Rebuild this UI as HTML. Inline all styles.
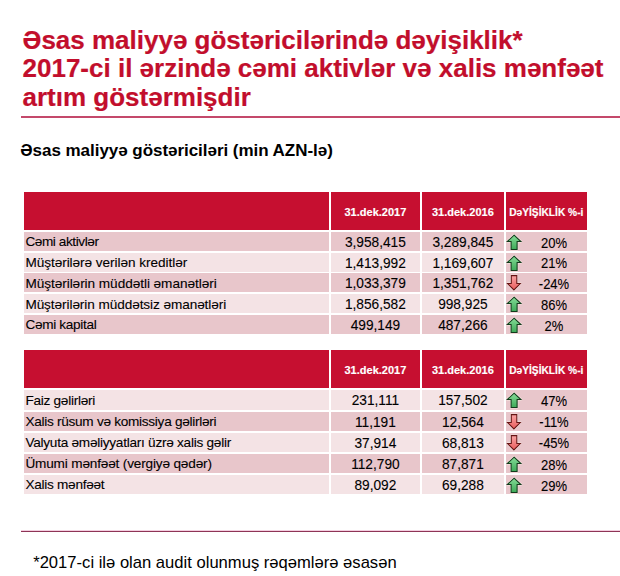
<!DOCTYPE html>
<html><head><meta charset="utf-8"><style>
html,body{margin:0;padding:0;background:#fff;}
body{width:620px;height:576px;position:relative;overflow:hidden;font-family:"Liberation Sans",sans-serif;}
.a{position:absolute;white-space:nowrap;}
.title{color:#c20e2c;font-weight:bold;font-size:26.0px;line-height:28px;left:22.5px;-webkit-text-stroke:0.2px #c20e2c;}
.c{position:absolute;}
.h{background:#c60f30;}
.p{background:#e8c6cb;}
.l{background:#f4e3e5;}
.ht{position:absolute;color:#fff;font-weight:bold;white-space:nowrap;text-align:center;-webkit-text-stroke:0.15px #fff;}
.bt{position:absolute;color:#000;white-space:nowrap;font-size:13px;line-height:13px;-webkit-text-stroke:0.1px #000;}
.lb{font-size:13.6px;line-height:13.6px;}
.nm{font-size:13.7px;line-height:13.7px;transform:scaleY(1.1);transform-origin:0 11.6px;}
.pc{transform:scaleY(1.06);transform-origin:0 11px;}
.ar{position:absolute;}
</style></head><body>

<div class="a title" style="top:26.4px">Əsas maliyyə göstəricilərində dəyişiklik*</div>
<div class="a title" style="top:54.3px">2017-ci il ərzində cəmi aktivlər və xalis mənfəət</div>
<div class="a title" style="top:82.8px">artım göstərmişdir</div>
<div class="a" style="left:21px;top:116px;width:599px;height:2px;background:#c4496b"></div>
<div class="a" style="left:20.3px;top:142.01px;font-size:17px;line-height:17px;letter-spacing:-0.04px;font-weight:bold;color:#000">Əsas maliyyə göstəriciləri (min AZN-lə)</div>
<div class="c h" style="left:23.50px;top:191.60px;width:305.10px;height:38.00px"></div>
<div class="c h" style="left:331.00px;top:191.60px;width:88.80px;height:38.00px"></div>
<div class="c h" style="left:422.00px;top:191.60px;width:81.75px;height:38.00px"></div>
<div class="c h" style="left:505.60px;top:191.60px;width:81.40px;height:38.00px"></div>
<div class="ht" style="left:331.00px;width:88.80px;top:206.69px;font-size:11px;line-height:11px">31.dek.2017</div>
<div class="ht" style="left:422.00px;width:81.75px;top:206.69px;font-size:11px;line-height:11px">31.dek.2016</div>
<div class="ht" style="left:505.60px;width:81.40px;top:207.87px;font-size:10.20px;line-height:10.20px">DəYİŞİKLİK %-i</div>
<div class="c p" style="left:23.50px;top:231.95px;width:305.10px;height:19.00px"></div>
<div class="c p" style="left:331.00px;top:231.95px;width:88.80px;height:19.00px"></div>
<div class="c p" style="left:422.00px;top:231.95px;width:81.75px;height:19.00px"></div>
<div class="c p" style="left:505.60px;top:231.95px;width:81.40px;height:19.00px"></div>
<div class="bt lb" style="left:25.4px;top:235.44px;letter-spacing:-0.417px">Cəmi aktivlər</div>
<div class="bt nm" style="left:331.00px;width:88.80px;text-align:center;top:235.95px">3,958,415</div>
<div class="bt nm" style="left:422.00px;width:81.75px;text-align:center;top:235.95px">3,289,845</div>
<svg class="ar" style="left:505px;top:231.95px" width="18" height="20" viewBox="0 0 18 20"><defs><linearGradient id="g1" x1="0" y1="0" x2="0" y2="1"><stop offset="0" stop-color="#86dc98"/><stop offset="1" stop-color="#3daa58"/></linearGradient></defs><path d="M9.1 3.2 L15.9 9.5 L12.1 9.5 L12.1 17.4 L6.1 17.4 L6.1 9.5 L2.3 9.5 Z" fill="none" stroke="#fbf4e8" stroke-opacity="0.6" stroke-width="2.4" stroke-linejoin="round"/><path d="M9.1 3.2 L15.9 9.5 L12.1 9.5 L12.1 17.4 L6.1 17.4 L6.1 9.5 L2.3 9.5 Z" fill="url(#g1)" stroke="#123a1c" stroke-width="1.05" stroke-linejoin="miter"/></svg>
<div class="bt pc" style="left:524px;width:60px;text-align:center;top:236.65px">20%</div>
<div class="c l" style="left:23.50px;top:252.70px;width:305.10px;height:19.00px"></div>
<div class="c l" style="left:331.00px;top:252.70px;width:88.80px;height:19.00px"></div>
<div class="c l" style="left:422.00px;top:252.70px;width:81.75px;height:19.00px"></div>
<div class="c p" style="left:505.60px;top:252.70px;width:81.40px;height:19.00px"></div>
<div class="bt lb" style="left:25.4px;top:256.19px;letter-spacing:-0.050px">Müştərilərə verilən kreditlər</div>
<div class="bt nm" style="left:331.00px;width:88.80px;text-align:center;top:256.70px">1,413,992</div>
<div class="bt nm" style="left:422.00px;width:81.75px;text-align:center;top:256.70px">1,169,607</div>
<svg class="ar" style="left:505px;top:252.70px" width="18" height="20" viewBox="0 0 18 20"><defs><linearGradient id="g2" x1="0" y1="0" x2="0" y2="1"><stop offset="0" stop-color="#86dc98"/><stop offset="1" stop-color="#3daa58"/></linearGradient></defs><path d="M9.1 3.2 L15.9 9.5 L12.1 9.5 L12.1 17.4 L6.1 17.4 L6.1 9.5 L2.3 9.5 Z" fill="none" stroke="#fbf4e8" stroke-opacity="0.6" stroke-width="2.4" stroke-linejoin="round"/><path d="M9.1 3.2 L15.9 9.5 L12.1 9.5 L12.1 17.4 L6.1 17.4 L6.1 9.5 L2.3 9.5 Z" fill="url(#g2)" stroke="#123a1c" stroke-width="1.05" stroke-linejoin="miter"/></svg>
<div class="bt pc" style="left:524px;width:60px;text-align:center;top:257.40px">21%</div>
<div class="c p" style="left:23.50px;top:273.45px;width:305.10px;height:19.00px"></div>
<div class="c p" style="left:331.00px;top:273.45px;width:88.80px;height:19.00px"></div>
<div class="c p" style="left:422.00px;top:273.45px;width:81.75px;height:19.00px"></div>
<div class="c p" style="left:505.60px;top:273.45px;width:81.40px;height:19.00px"></div>
<div class="bt lb" style="left:25.4px;top:276.94px;letter-spacing:-0.045px">Müştərilərin müddətli əmanətləri</div>
<div class="bt nm" style="left:331.00px;width:88.80px;text-align:center;top:277.45px">1,033,379</div>
<div class="bt nm" style="left:422.00px;width:81.75px;text-align:center;top:277.45px">1,351,762</div>
<svg class="ar" style="left:505px;top:273.45px" width="18" height="20" viewBox="0 0 18 20"><defs><linearGradient id="r3" x1="0" y1="0" x2="0" y2="1"><stop offset="0" stop-color="#f8a4a4"/><stop offset="1" stop-color="#ea5c5c"/></linearGradient></defs><path d="M6.3 2.6 L11.8 2.6 L11.8 10.5 L15.3 10.5 L8.9 16.9 L2.5 10.5 L6.3 10.5 Z" fill="none" stroke="#fbf0ea" stroke-opacity="0.6" stroke-width="2.4" stroke-linejoin="round"/><path d="M6.3 2.6 L11.8 2.6 L11.8 10.5 L15.3 10.5 L8.9 16.9 L2.5 10.5 L6.3 10.5 Z" fill="url(#r3)" stroke="#641414" stroke-width="1.05" stroke-linejoin="miter"/></svg>
<div class="bt pc" style="left:524px;width:60px;text-align:center;top:278.15px">-24%</div>
<div class="c l" style="left:23.50px;top:294.20px;width:305.10px;height:19.00px"></div>
<div class="c l" style="left:331.00px;top:294.20px;width:88.80px;height:19.00px"></div>
<div class="c l" style="left:422.00px;top:294.20px;width:81.75px;height:19.00px"></div>
<div class="c p" style="left:505.60px;top:294.20px;width:81.40px;height:19.00px"></div>
<div class="bt lb" style="left:25.4px;top:297.69px;letter-spacing:-0.075px">Müştərilərin müddətsiz əmanətləri</div>
<div class="bt nm" style="left:331.00px;width:88.80px;text-align:center;top:298.20px">1,856,582</div>
<div class="bt nm" style="left:422.00px;width:81.75px;text-align:center;top:298.20px">998,925</div>
<svg class="ar" style="left:505px;top:294.20px" width="18" height="20" viewBox="0 0 18 20"><defs><linearGradient id="g4" x1="0" y1="0" x2="0" y2="1"><stop offset="0" stop-color="#86dc98"/><stop offset="1" stop-color="#3daa58"/></linearGradient></defs><path d="M9.1 3.2 L15.9 9.5 L12.1 9.5 L12.1 17.4 L6.1 17.4 L6.1 9.5 L2.3 9.5 Z" fill="none" stroke="#fbf4e8" stroke-opacity="0.6" stroke-width="2.4" stroke-linejoin="round"/><path d="M9.1 3.2 L15.9 9.5 L12.1 9.5 L12.1 17.4 L6.1 17.4 L6.1 9.5 L2.3 9.5 Z" fill="url(#g4)" stroke="#123a1c" stroke-width="1.05" stroke-linejoin="miter"/></svg>
<div class="bt pc" style="left:524px;width:60px;text-align:center;top:298.90px">86%</div>
<div class="c p" style="left:23.50px;top:314.95px;width:305.10px;height:19.00px"></div>
<div class="c p" style="left:331.00px;top:314.95px;width:88.80px;height:19.00px"></div>
<div class="c p" style="left:422.00px;top:314.95px;width:81.75px;height:19.00px"></div>
<div class="c p" style="left:505.60px;top:314.95px;width:81.40px;height:19.00px"></div>
<div class="bt lb" style="left:25.4px;top:318.44px;letter-spacing:-0.309px">Cəmi kapital</div>
<div class="bt nm" style="left:331.00px;width:88.80px;text-align:center;top:318.95px">499,149</div>
<div class="bt nm" style="left:422.00px;width:81.75px;text-align:center;top:318.95px">487,266</div>
<svg class="ar" style="left:505px;top:314.95px" width="18" height="20" viewBox="0 0 18 20"><defs><linearGradient id="g5" x1="0" y1="0" x2="0" y2="1"><stop offset="0" stop-color="#86dc98"/><stop offset="1" stop-color="#3daa58"/></linearGradient></defs><path d="M9.1 3.2 L15.9 9.5 L12.1 9.5 L12.1 17.4 L6.1 17.4 L6.1 9.5 L2.3 9.5 Z" fill="none" stroke="#fbf4e8" stroke-opacity="0.6" stroke-width="2.4" stroke-linejoin="round"/><path d="M9.1 3.2 L15.9 9.5 L12.1 9.5 L12.1 17.4 L6.1 17.4 L6.1 9.5 L2.3 9.5 Z" fill="url(#g5)" stroke="#123a1c" stroke-width="1.05" stroke-linejoin="miter"/></svg>
<div class="bt pc" style="left:524px;width:60px;text-align:center;top:319.65px">2%</div>
<div class="c h" style="left:23.50px;top:350.10px;width:305.10px;height:38.00px"></div>
<div class="c h" style="left:331.00px;top:350.10px;width:88.80px;height:38.00px"></div>
<div class="c h" style="left:422.00px;top:350.10px;width:81.75px;height:38.00px"></div>
<div class="c h" style="left:505.60px;top:350.10px;width:81.40px;height:38.00px"></div>
<div class="ht" style="left:331.00px;width:88.80px;top:365.19px;font-size:11px;line-height:11px">31.dek.2017</div>
<div class="ht" style="left:422.00px;width:81.75px;top:365.19px;font-size:11px;line-height:11px">31.dek.2016</div>
<div class="ht" style="left:505.60px;width:81.40px;top:366.37px;font-size:10.20px;line-height:10.20px">DəYİŞİKLİK %-i</div>
<div class="c l" style="left:23.50px;top:390.40px;width:305.10px;height:19.20px"></div>
<div class="c l" style="left:331.00px;top:390.40px;width:88.80px;height:19.20px"></div>
<div class="c l" style="left:422.00px;top:390.40px;width:81.75px;height:19.20px"></div>
<div class="c p" style="left:505.60px;top:390.40px;width:81.40px;height:19.20px"></div>
<div class="bt lb" style="left:25.4px;top:393.89px;letter-spacing:-0.262px">Faiz gəlirləri</div>
<div class="bt nm" style="left:331.00px;width:88.80px;text-align:center;top:394.40px">231,111</div>
<div class="bt nm" style="left:422.00px;width:81.75px;text-align:center;top:394.40px">157,502</div>
<svg class="ar" style="left:505px;top:390.40px" width="18" height="20" viewBox="0 0 18 20"><defs><linearGradient id="g6" x1="0" y1="0" x2="0" y2="1"><stop offset="0" stop-color="#86dc98"/><stop offset="1" stop-color="#3daa58"/></linearGradient></defs><path d="M9.1 3.2 L15.9 9.5 L12.1 9.5 L12.1 17.4 L6.1 17.4 L6.1 9.5 L2.3 9.5 Z" fill="none" stroke="#fbf4e8" stroke-opacity="0.6" stroke-width="2.4" stroke-linejoin="round"/><path d="M9.1 3.2 L15.9 9.5 L12.1 9.5 L12.1 17.4 L6.1 17.4 L6.1 9.5 L2.3 9.5 Z" fill="url(#g6)" stroke="#123a1c" stroke-width="1.05" stroke-linejoin="miter"/></svg>
<div class="bt pc" style="left:524px;width:60px;text-align:center;top:395.10px">47%</div>
<div class="c p" style="left:23.50px;top:411.55px;width:305.10px;height:19.20px"></div>
<div class="c p" style="left:331.00px;top:411.55px;width:88.80px;height:19.20px"></div>
<div class="c p" style="left:422.00px;top:411.55px;width:81.75px;height:19.20px"></div>
<div class="c p" style="left:505.60px;top:411.55px;width:81.40px;height:19.20px"></div>
<div class="bt lb" style="left:25.4px;top:415.04px;letter-spacing:-0.273px">Xalis rüsum və komissiya gəlirləri</div>
<div class="bt nm" style="left:331.00px;width:88.80px;text-align:center;top:415.55px">11,191</div>
<div class="bt nm" style="left:422.00px;width:81.75px;text-align:center;top:415.55px">12,564</div>
<svg class="ar" style="left:505px;top:411.55px" width="18" height="20" viewBox="0 0 18 20"><defs><linearGradient id="r7" x1="0" y1="0" x2="0" y2="1"><stop offset="0" stop-color="#f8a4a4"/><stop offset="1" stop-color="#ea5c5c"/></linearGradient></defs><path d="M6.3 2.6 L11.8 2.6 L11.8 10.5 L15.3 10.5 L8.9 16.9 L2.5 10.5 L6.3 10.5 Z" fill="none" stroke="#fbf0ea" stroke-opacity="0.6" stroke-width="2.4" stroke-linejoin="round"/><path d="M6.3 2.6 L11.8 2.6 L11.8 10.5 L15.3 10.5 L8.9 16.9 L2.5 10.5 L6.3 10.5 Z" fill="url(#r7)" stroke="#641414" stroke-width="1.05" stroke-linejoin="miter"/></svg>
<div class="bt pc" style="left:524px;width:60px;text-align:center;top:416.25px">-11%</div>
<div class="c l" style="left:23.50px;top:432.70px;width:305.10px;height:19.20px"></div>
<div class="c l" style="left:331.00px;top:432.70px;width:88.80px;height:19.20px"></div>
<div class="c l" style="left:422.00px;top:432.70px;width:81.75px;height:19.20px"></div>
<div class="c p" style="left:505.60px;top:432.70px;width:81.40px;height:19.20px"></div>
<div class="bt lb" style="left:25.4px;top:436.19px;letter-spacing:-0.249px">Valyuta əməliyyatları üzrə xalis gəlir</div>
<div class="bt nm" style="left:331.00px;width:88.80px;text-align:center;top:436.70px">37,914</div>
<div class="bt nm" style="left:422.00px;width:81.75px;text-align:center;top:436.70px">68,813</div>
<svg class="ar" style="left:505px;top:432.70px" width="18" height="20" viewBox="0 0 18 20"><defs><linearGradient id="r8" x1="0" y1="0" x2="0" y2="1"><stop offset="0" stop-color="#f8a4a4"/><stop offset="1" stop-color="#ea5c5c"/></linearGradient></defs><path d="M6.3 2.6 L11.8 2.6 L11.8 10.5 L15.3 10.5 L8.9 16.9 L2.5 10.5 L6.3 10.5 Z" fill="none" stroke="#fbf0ea" stroke-opacity="0.6" stroke-width="2.4" stroke-linejoin="round"/><path d="M6.3 2.6 L11.8 2.6 L11.8 10.5 L15.3 10.5 L8.9 16.9 L2.5 10.5 L6.3 10.5 Z" fill="url(#r8)" stroke="#641414" stroke-width="1.05" stroke-linejoin="miter"/></svg>
<div class="bt pc" style="left:524px;width:60px;text-align:center;top:437.40px">-45%</div>
<div class="c p" style="left:23.50px;top:453.85px;width:305.10px;height:19.20px"></div>
<div class="c p" style="left:331.00px;top:453.85px;width:88.80px;height:19.20px"></div>
<div class="c p" style="left:422.00px;top:453.85px;width:81.75px;height:19.20px"></div>
<div class="c p" style="left:505.60px;top:453.85px;width:81.40px;height:19.20px"></div>
<div class="bt lb" style="left:25.4px;top:457.34px;letter-spacing:-0.164px">Ümumi mənfəət (vergiyə qədər)</div>
<div class="bt nm" style="left:331.00px;width:88.80px;text-align:center;top:457.85px">112,790</div>
<div class="bt nm" style="left:422.00px;width:81.75px;text-align:center;top:457.85px">87,871</div>
<svg class="ar" style="left:505px;top:453.85px" width="18" height="20" viewBox="0 0 18 20"><defs><linearGradient id="g9" x1="0" y1="0" x2="0" y2="1"><stop offset="0" stop-color="#86dc98"/><stop offset="1" stop-color="#3daa58"/></linearGradient></defs><path d="M9.1 3.2 L15.9 9.5 L12.1 9.5 L12.1 17.4 L6.1 17.4 L6.1 9.5 L2.3 9.5 Z" fill="none" stroke="#fbf4e8" stroke-opacity="0.6" stroke-width="2.4" stroke-linejoin="round"/><path d="M9.1 3.2 L15.9 9.5 L12.1 9.5 L12.1 17.4 L6.1 17.4 L6.1 9.5 L2.3 9.5 Z" fill="url(#g9)" stroke="#123a1c" stroke-width="1.05" stroke-linejoin="miter"/></svg>
<div class="bt pc" style="left:524px;width:60px;text-align:center;top:458.55px">28%</div>
<div class="c l" style="left:23.50px;top:475.00px;width:305.10px;height:19.20px"></div>
<div class="c l" style="left:331.00px;top:475.00px;width:88.80px;height:19.20px"></div>
<div class="c l" style="left:422.00px;top:475.00px;width:81.75px;height:19.20px"></div>
<div class="c p" style="left:505.60px;top:475.00px;width:81.40px;height:19.20px"></div>
<div class="bt lb" style="left:25.4px;top:478.49px;letter-spacing:-0.267px">Xalis mənfəət</div>
<div class="bt nm" style="left:331.00px;width:88.80px;text-align:center;top:479.00px">89,092</div>
<div class="bt nm" style="left:422.00px;width:81.75px;text-align:center;top:479.00px">69,288</div>
<svg class="ar" style="left:505px;top:475.00px" width="18" height="20" viewBox="0 0 18 20"><defs><linearGradient id="g10" x1="0" y1="0" x2="0" y2="1"><stop offset="0" stop-color="#86dc98"/><stop offset="1" stop-color="#3daa58"/></linearGradient></defs><path d="M9.1 3.2 L15.9 9.5 L12.1 9.5 L12.1 17.4 L6.1 17.4 L6.1 9.5 L2.3 9.5 Z" fill="none" stroke="#fbf4e8" stroke-opacity="0.6" stroke-width="2.4" stroke-linejoin="round"/><path d="M9.1 3.2 L15.9 9.5 L12.1 9.5 L12.1 17.4 L6.1 17.4 L6.1 9.5 L2.3 9.5 Z" fill="url(#g10)" stroke="#123a1c" stroke-width="1.05" stroke-linejoin="miter"/></svg>
<div class="bt pc" style="left:524px;width:60px;text-align:center;top:479.70px">29%</div>
<div class="a" style="left:21px;top:530px;width:599px;height:1px;background:#f3cfe0"></div>
<div class="a" style="left:21px;top:531px;width:599px;height:1px;background:#8e3456"></div>
<div class="a" style="left:33.2px;top:554.95px;font-size:16.6px;line-height:16.6px;color:#000">*2017-ci ilə olan audit olunmuş rəqəmlərə əsasən</div>
</body></html>
